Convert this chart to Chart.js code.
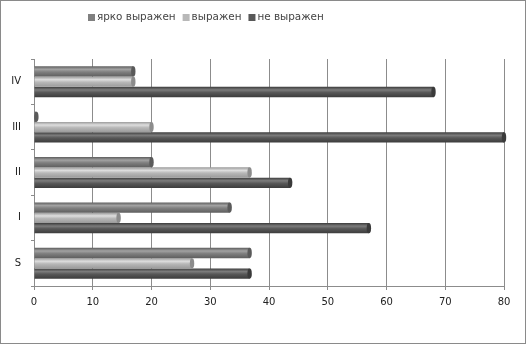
<!DOCTYPE html>
<html>
<head>
<meta charset="utf-8">
<script src="https://cdn.jsdelivr.net/npm/chart.js@4.4.1/dist/chart.umd.min.js"></script>
<style>
html,body{margin:0;padding:0;background:#fff;}
#wrap{width:526px;height:344px;position:relative;}
</style>
</head>
<body>
<div id="wrap"><canvas id="c" width="526" height="344"></canvas></div>
<script>
// Categories from top to bottom as shown in the chart
const categories = ['IV', 'III', 'II', 'I', 'S'];
const seriesNames = ['ярко выражен', 'выражен', 'не выражен'];
const brightlyExpressed = [16.9, 0.4, 20.0, 33.3, 36.7];
const expressed = [16.9, 20.0, 36.7, 14.4, 26.9];
const notExpressed = [68.0, 80.0, 43.6, 57.0, 36.7];
const xTickMin = 0, xTickMax = 80, xTickStep = 10;

const palettes = [
  {edge:'#5e5e5e', mid:'#a2a2a2', base:'#808080', cap:'#5a5a5a'},
  {edge:'#9a9a9a', mid:'#dedede', base:'#b8b8b8', cap:'#8c8c8c'},
  {edge:'#3c3c3c', mid:'#7c7c7c', base:'#585858', cap:'#3a3a3a'}
];

const cylinderPlugin = {
  id: 'cylinder',
  beforeDatasetDraw(chart, args) {
    const ctx = chart.ctx;
    const p = palettes[args.index];
    const meta = args.meta;
    meta.data.forEach(el => {
      const h = el.height, y = el.y;
      const g = ctx.createLinearGradient(0, y - h/2, 0, y + h/2);
      g.addColorStop(0, p.edge);
      g.addColorStop(0.3, p.mid);
      g.addColorStop(0.55, p.base);
      g.addColorStop(1, p.edge);
      el.options = Object.assign({}, el.options, {backgroundColor: g});
    });
  },
  afterDatasetsDraw(chart) {
    const ctx = chart.ctx;
    chart.data.datasets.forEach((ds, di) => {
      const meta = chart.getDatasetMeta(di);
      const p = palettes[di];
      meta.data.forEach(el => {
        const h = el.height;
        ctx.save();
        ctx.fillStyle = p.cap;
        ctx.beginPath();
        ctx.ellipse(el.x, el.y, 2.2, h/2, 0, 0, Math.PI*2);
        ctx.fill();
        ctx.restore();
      });
    });
  }
};

const frameLegendPlugin = {
  id: 'frameLegend',
  afterDraw(chart) {
    const ctx = chart.ctx;
    ctx.save();
    ctx.strokeStyle = '#8a8a8a';
    ctx.lineWidth = 1;
    ctx.strokeRect(0.5, 0.5, 525, 343);
    ctx.font = '10.4px "DejaVu Sans", sans-serif';
    ctx.textBaseline = 'middle';
    let x = 88;
    const y = 17.5;
    seriesNames.forEach((name, i) => {
      ctx.fillStyle = palettes[i].base;
      ctx.fillRect(x, y - 3.5, 7, 7);
      ctx.fillStyle = '#444';
      ctx.fillText(name, x + 9, y);
      x += 9 + ctx.measureText(name).width + 7;
    });
    ctx.restore();
  }
};

new Chart(document.getElementById('c'), {
  type: 'bar',
  data: {
    labels: categories,
    datasets: [
      {label: seriesNames[0], data: brightlyExpressed, backgroundColor: palettes[0].base},
      {label: seriesNames[1], data: expressed, backgroundColor: palettes[1].base},
      {label: seriesNames[2], data: notExpressed, backgroundColor: palettes[2].base}
    ]
  },
  options: {
    indexAxis: 'y',
    responsive: false,
    animation: false,
    events: [],
    layout: {padding: {top: 59, right: 22, bottom: 0, left: 0}},
    datasets: {bar: {categoryPercentage: 0.68, barPercentage: 1.0, borderWidth: 0}},
    plugins: {legend: {display: false}, tooltip: {enabled: false}},
    scales: {
      x: {
        min: xTickMin, max: xTickMax,
        ticks: {stepSize: xTickStep, color: '#222', font: {family: 'DejaVu Sans', size: 10}, padding: 6},
        grid: {color: '#8c8c8c', tickLength: 4, lineWidth: 1},
        border: {color: '#8c8c8c'},
        afterFit(s) { s.height = 344 - 286; }
      },
      y: {
        ticks: {color: '#222', font: {family: 'DejaVu Sans', size: 10}, padding: 10},
        grid: {display: true, drawOnChartArea: false, offset: true, tickLength: 3, color: '#8c8c8c'},
        border: {color: '#8c8c8c'},
        afterFit(s) { s.width = 34; }
      }
    }
  },
  plugins: [cylinderPlugin, frameLegendPlugin]
});
</script>
</body>
</html>
